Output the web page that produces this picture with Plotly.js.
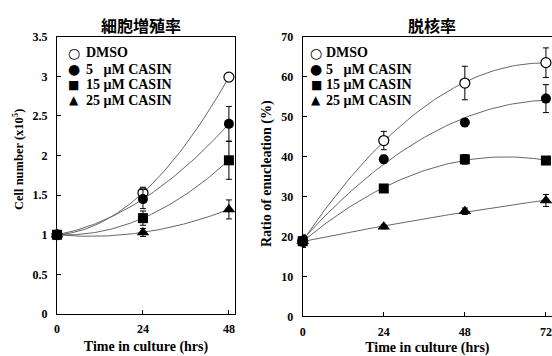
<!DOCTYPE html>
<html>
<head>
<meta charset="utf-8">
<script src="https://cdn.plot.ly/plotly-3.0.1.min.js"></script>
<style>
html,body{margin:0;padding:0;background:#fff;overflow:hidden;}
#chart{width:552px;height:356px;}
</style>
</head>
<body>
<div id="chart"></div>
<script>
// ---- Data ----
const seriesNames = ["DMSO", "5\u00a0\u00a0\u00a0\u03bcM CASIN", "15 \u03bcM CASIN", "25 \u03bcM CASIN"];
const seriesSymbols = ["circle", "circle", "square", "triangle-up"];
const legendGlyphs = ["\u25cb", "\u25cf", "\u25a0", "\u25b2"];

// Left: cell proliferation
const timeLeft = [0, 24, 48];
const cellDMSO = [1.00, 1.53, 2.99];
const cell5 = [1.00, 1.45, 2.40];
const cell15 = [1.00, 1.21, 1.94];
const cell25 = [1.00, 1.03, 1.32];
const cellErrDMSO = [0, 0.07, 0.05];
const cellErr5 = [0, 0.12, 0.22];
const cellErr15 = [0, 0.09, 0.24];
const cellErr25 = [0, 0.05, 0.12];

// Right: enucleation ratio
const timeRight = [0, 24, 48, 72];
const enucDMSO = [18.8, 44.0, 58.4, 63.5];
const enuc5 = [18.8, 39.3, 48.5, 54.5];
const enuc15 = [18.8, 32.0, 39.3, 39.0];
const enuc25 = [18.8, 22.4, 26.3, 29.0];
const enucErrDMSO = [1.5, 2.3, 4.2, 3.7];
const enucErr5 = [1.5, 1.0, 1.0, 3.5];
const enucErr15 = [1.5, 1.0, 1.2, 1.0];
const enucErr25 = [1.5, 0.5, 0.8, 1.5];

const leftTitle = "細胞増殖率";
const rightTitle = "脱核率";
const xTitle = "Time in culture (hrs)";
const yTitleLeft = "Cell number (x10<sup>5</sup>)";
const yTitleRight = "Ratio of enucleation (%)";

// ---- Helpers: 2nd-order polynomial trendline (least squares) ----
function polyfit2(xs, ys) {
  let n = xs.length, s = [0,0,0,0,0], t = [0,0,0];
  for (let i = 0; i < n; i++) {
    let p = 1;
    for (let k = 0; k < 5; k++) { s[k] += p; if (k < 3) t[k] += p * ys[i]; p *= xs[i]; }
  }
  const A = [[s[0], s[1], s[2]], [s[1], s[2], s[3]], [s[2], s[3], s[4]]];
  const b = t.slice();
  for (let c = 0; c < 3; c++) {
    let piv = c;
    for (let r = c + 1; r < 3; r++) if (Math.abs(A[r][c]) > Math.abs(A[piv][c])) piv = r;
    [A[c], A[piv]] = [A[piv], A[c]]; [b[c], b[piv]] = [b[piv], b[c]];
    for (let r = 0; r < 3; r++) if (r !== c) {
      const f = A[r][c] / A[c][c];
      for (let k = c; k < 3; k++) A[r][k] -= f * A[c][k];
      b[r] -= f * b[c];
    }
  }
  return [b[0] / A[0][0], b[1] / A[1][1], b[2] / A[2][2]];
}
function trend(xs, ys) {
  const c = polyfit2(xs, ys);
  const x0 = xs[0], x1 = xs[xs.length - 1], N = 80;
  const X = [], Y = [];
  for (let i = 0; i <= N; i++) {
    const x = x0 + (x1 - x0) * i / N;
    X.push(x); Y.push(c[0] + c[1] * x + c[2] * x * x);
  }
  return {X, Y};
}

const serif = "Liberation Serif, Times New Roman, serif";
const traces = [];

function addPanel(xs, ysList, errList, xa, ya) {
  ysList.forEach((ys) => {
    const tr = trend(xs, ys);
    traces.push({
      x: tr.X, y: tr.Y, xaxis: xa, yaxis: ya, mode: "lines",
      line: {color: "#666", width: 1}, showlegend: false, hoverinfo: "skip"
    });
  });
  ysList.forEach((ys, i) => {
    traces.push({
      x: xs, y: ys, xaxis: xa, yaxis: ya, mode: "markers", name: seriesNames[i],
      showlegend: false,
      marker: {symbol: seriesSymbols[i], size: i === 3 ? 11 : 10, color: i === 0 ? "#fff" : "#000",
               line: {color: "#000", width: i === 0 ? 1.2 : 0}},
      error_y: {type: "data", array: errList[i], visible: true, color: "#000", thickness: 1, width: 3},
      cliponaxis: false
    });
  });
}
addPanel(timeLeft, [cellDMSO, cell5, cell15, cell25], [cellErrDMSO, cellErr5, cellErr15, cellErr25], "x", "y");
addPanel(timeRight, [enucDMSO, enuc5, enuc15, enuc25], [enucErrDMSO, enucErr5, enucErr15, enucErr25], "x2", "y2");

const tickFont = {family: serif, size: 12, color: "#000", weight: "bold"};
const W = 552, H = 356;
const baseX = {
  showgrid: false, zeroline: false, showline: true, linecolor: "#000", linewidth: 1,
  mirror: true, ticks: "inside", ticklen: 4, tickcolor: "#000", tickfont: tickFont,
  tickmode: "array", ticklabelstandoff: 4,
  title: {text: xTitle, font: {family: serif, size: 14, color: "#000", weight: "bold"}, standoff: 5}
};
const baseY = {
  showgrid: false, zeroline: false, showline: true, linecolor: "#000", linewidth: 1,
  ticks: "inside", ticklen: 4, tickcolor: "#000", tickfont: tickFont, tickmode: "linear",
  ticklabelstandoff: 6
};

const annotations = [
  {text: leftTitle, xref: "paper", yref: "paper", x: 141 / W, y: 1 - 25 / H, showarrow: false,
   xanchor: "center", yanchor: "middle", font: {family: "Noto Sans CJK JP", size: 16, color: "#000", weight: "bold"}},
  {text: rightTitle, xref: "paper", yref: "paper", x: 432 / W, y: 1 - 25 / H, showarrow: false,
   xanchor: "center", yanchor: "middle", font: {family: "Noto Sans CJK JP", size: 16, color: "#000", weight: "bold"}},
  {text: yTitleLeft, xref: "paper", yref: "paper", x: 18 / W, y: 1 - 160 / H, showarrow: false, textangle: -90,
   xanchor: "center", yanchor: "middle", font: {family: serif, size: 12.5, color: "#000", weight: "bold"}},
  {text: yTitleRight, xref: "paper", yref: "paper", x: 267 / W, y: 1 - 174 / H, showarrow: false, textangle: -90,
   xanchor: "center", yanchor: "middle", font: {family: serif, size: 14, color: "#000", weight: "bold"}}
];

// Legend entries (symbol glyph + label) inside each panel
const legendRowsY = [52.7, 69.3, 85, 100.5];
function addLegend(symX, textX) {
  seriesNames.forEach((name, i) => {
    annotations.push({text: legendGlyphs[i], xref: "paper", yref: "paper", x: symX / W, y: 1 - legendRowsY[i] / H,
      showarrow: false, xanchor: "center", yanchor: "middle",
      font: {family: "DejaVu Sans", size: i >= 2 ? 12 : 14, color: "#000"}});
    annotations.push({text: name, xref: "paper", yref: "paper", x: (textX - 2) / W, y: 1 - legendRowsY[i] / H,
      showarrow: false, xanchor: "left", yanchor: "middle",
      font: {family: serif, size: 14, color: "#000", weight: "bold"}});
  });
}
addLegend(73.7, 86);
addLegend(316, 325.5);

const layout = {
  width: W, height: H, margin: {l: 0, r: 0, t: 0, b: 0},
  paper_bgcolor: "#fff", plot_bgcolor: "#fff", showlegend: false,
  xaxis: Object.assign({}, baseX, {domain: [57 / W, 235 / W], range: [0, 49.7], tickvals: timeLeft, anchor: "y"}),
  yaxis: Object.assign({}, baseY, {domain: [1 - 314 / H, 1 - 36.7 / H], range: [0, 3.5], dtick: 0.5, tick0: 0, anchor: "x", mirror: true}),
  xaxis2: Object.assign({}, baseX, {domain: [302.7 / W, 1], range: [0, 73.8], tickvals: timeRight, anchor: "y2"}),
  yaxis2: Object.assign({}, baseY, {domain: [1 - 316.3 / H, 1 - 36.7 / H], range: [0, 70], dtick: 10, tick0: 0, anchor: "x2", mirror: false}),
  annotations: annotations
};

Plotly.newPlot("chart", traces, layout, {staticPlot: true, displayModeBar: false});
</script>
</body>
</html>
